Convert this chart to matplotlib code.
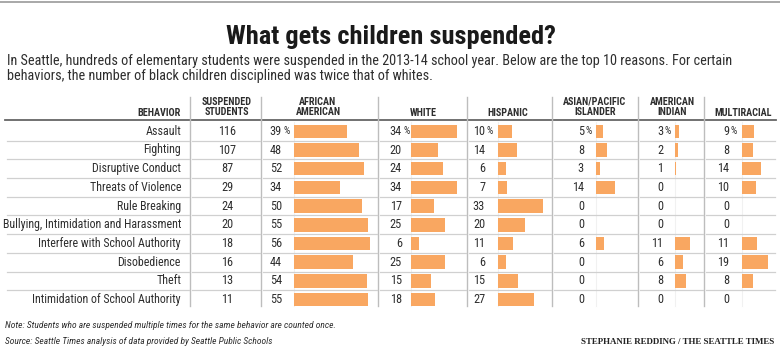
import matplotlib
matplotlib.use("Agg")
import matplotlib.pyplot as plt
from matplotlib import font_manager as fm

# --- data ---
behaviors = ["Assault", "Fighting", "Disruptive Conduct", "Threats of Violence",
             "Rule Breaking", "Bullying, Intimidation and Harassment",
             "Interfere with School Authority", "Disobedience", "Theft",
             "Intimidation of School Authority"]
suspended = [116, 107, 87, 29, 24, 20, 18, 16, 13, 11]
african_american = [39, 48, 52, 34, 50, 55, 56, 44, 54, 55]
white = [34, 20, 24, 34, 17, 25, 6, 25, 15, 18]
hispanic = [10, 14, 6, 7, 33, 20, 11, 6, 15, 27]
asian_pacific = [5, 8, 3, 14, 0, 0, 6, 0, 0, 0]
american_indian = [3, 2, 1, 0, 0, 0, 11, 6, 8, 0]
multiracial = [9, 8, 14, 10, 0, 0, 11, 19, 8, 0]
group_headers = ["AFRICAN\nAMERICAN", "WHITE", "HISPANIC", "ASIAN/PACIFIC\nISLANDER",
                 "AMERICAN\nINDIAN", "MULTIRACIAL"]

title = "What gets children suspended?"
subtitle = ("In Seattle, hundreds of elementary students were suspended in the 2013-14 school year. "
            "Below are the top 10 reasons. For certain\nbehaviors, the number of black children "
            "disciplined was twice that of whites.")
note = "Note: Students who are suspended multiple times for the same behavior are counted once."
source = "Source: Seattle Times analysis of data provided by Seattle Public Schools"
credit = "STEPHANIE REDDING / THE SEATTLE TIMES"

# pick a narrow sans if one is around
names = {f.name for f in fm.fontManager.ttflist}
narrow = next((n for n in ["Roboto Condensed", "Liberation Sans Narrow", "DejaVu Sans Condensed"]
               if n in names), "DejaVu Sans")
plt.rcParams["font.family"] = [narrow, "DejaVu Sans"]

BAR = "#f9a761"
TXT = "#2e2e2e"

fig = plt.figure(figsize=(7.8, 3.49), dpi=100)
ax = fig.add_axes([0, 0, 1, 1])
ax.set_xlim(0, 780)
ax.set_ylim(349, 0)
ax.axis("off")

# layout (pixels)
row0, pitch = 131.3, 18.7
px_per_pct = 1.35
num_right = [282, 402, 485, 584, 663, 729]
bar_left = [294, 411, 498, 596, 675, 742]
head_x = [318, 423, 508, 595, 672, 743]
seps = [190, 261, 378, 467, 552, 638, 704]
groups = [african_american, white, hispanic, asian_pacific, american_indian, multiracial]
rows_y = [row0 + pitch * i for i in range(len(behaviors))]

ax.plot([0, 780], [2, 2], color="#9a9a9a", lw=1.2)
ax.text(391, 37, title, ha="center", va="center", fontsize=19, fontweight="bold", color="#1a1a1a")
ax.text(7, 68.5, subtitle, ha="left", va="center", fontsize=10.3, color=TXT, linespacing=1.12)

# headers
hkw = dict(fontsize=7.3, fontweight="bold", color=TXT, va="center", linespacing=1.05)
ax.text(181, 113, "BEHAVIOR", ha="right", **hkw)
ax.text(227, 107, "SUSPENDED\nSTUDENTS", ha="center", **hkw)
for hx, h in zip(head_x, group_headers):
    ax.text(hx, 107 if "\n" in h else 113, h, ha="center", **hkw)
ax.plot([5, 776], [120, 120], color="#666666", lw=1.3)

# grid lines
for x in seps:
    ax.plot([x, x], [97, 306], color="#bdbdbd", lw=1.0)
edges = [5] + seps + [776]
for y in rows_y[:-1]:
    for a, b in zip(edges[:-1], edges[1:]):
        ax.plot([a + 1.5, b - 1.5], [y + pitch / 2] * 2, color="#d0d0d0", lw=0.9)
for x in bar_left:
    ax.plot([x, x], [122, 306], color="#f1f1f1", lw=0.8, zorder=0)

# rows
for i, y in enumerate(rows_y):
    ax.text(181, y, behaviors[i], ha="right", va="center", fontsize=8.6, color=TXT)
    ax.text(227, y, str(suspended[i]), ha="center", va="center", fontsize=8.8, color=TXT)

for vals, nx, bx in zip(groups, num_right, bar_left):
    ax.barh(rows_y, [v * px_per_pct for v in vals], left=bx, height=13.5, color=BAR, lw=0)
    for i, (v, y) in enumerate(zip(vals, rows_y)):
        ax.text(nx, y, str(v), ha="right", va="center", fontsize=8.8, color=TXT)
        if i == 0:
            ax.text(nx + 1.5, y, "%", ha="left", va="center", fontsize=7.2, color=TXT)

ax.text(5, 325, note, ha="left", va="center", fontsize=6.8, style="italic", color=TXT)
ax.text(5, 342, source, ha="left", va="center", fontsize=6.8, style="italic", color=TXT)
ax.text(774, 342, credit, ha="right", va="center", fontsize=6.4, fontweight="bold",
        family="Liberation Serif", color="#222222")

fig.savefig("out.png", dpi=100)
